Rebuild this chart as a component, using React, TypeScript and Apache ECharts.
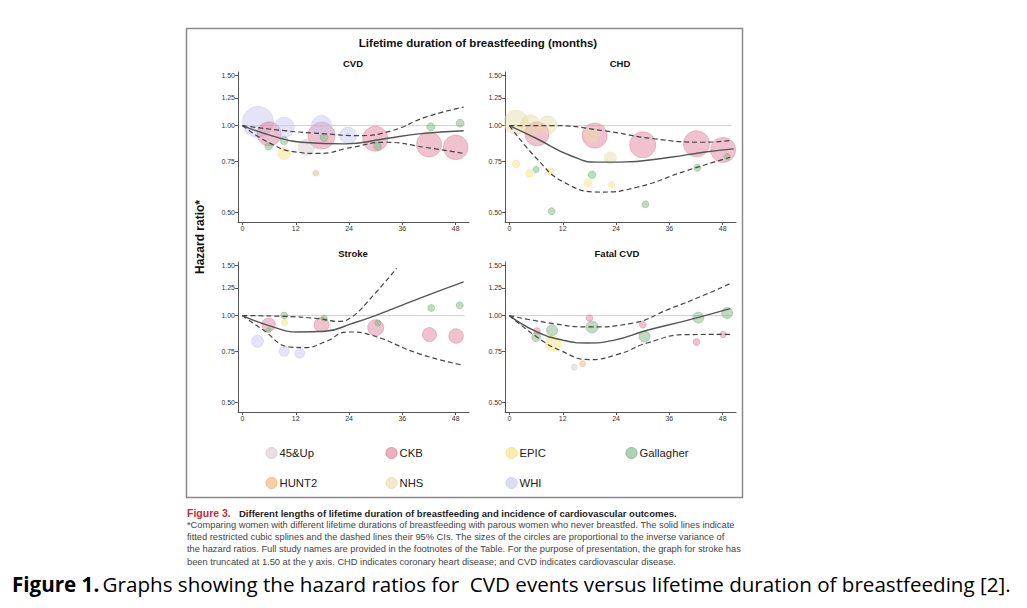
import React, { useEffect, useRef } from "react";
import * as echarts from "echarts";

// ---------- DATA ----------
const studies = ["45&Up", "CKB", "EPIC", "Gallagher", "HUNT2", "NHS", "WHI"];
const xTicks = [0, 12, 24, 36, 48];
const yTicks = [0.5, 0.75, 1.0, 1.25, 1.5];
const panelTitles = ["CVD", "CHD", "Stroke", "Fatal CVD"];

// [study, months, hazard ratio, weight (inverse variance, relative)]
const cvdPoints: [string, number, number, number][] = [
  ["WHI", 3.5, 1.03, 240],
  ["WHI", 9.4, 0.986, 100],
  ["CKB", 6, 0.936, 144],
  ["Gallagher", 5.9, 0.847, 14],
  ["Gallagher", 9.4, 0.887, 16],
  ["EPIC", 9.4, 0.8, 36],
  ["45&Up", 14.4, 0.84, 64],
  ["HUNT2", 16.5, 0.683, 8],
  ["WHI", 17.8, 1.0, 100],
  ["CKB", 17.8, 0.923, 182],
  ["Gallagher", 18.4, 0.91, 16],
  ["WHI", 23.8, 0.923, 69],
  ["CKB", 29.9, 0.9, 156],
  ["Gallagher", 30.4, 0.847, 16],
  ["Gallagher", 42.4, 0.99, 16],
  ["CKB", 42, 0.86, 156],
  ["Gallagher", 49, 1.02, 16],
  ["CKB", 48, 0.84, 150],
];
const chdPoints: [string, number, number, number][] = [
  ["NHS", 1.5, 1.027, 144],
  ["NHS", 4.7, 1.005, 100],
  ["NHS", 8.6, 1.005, 81],
  ["CKB", 6.2, 0.936, 144],
  ["NHS", 18.6, 0.93, 60],
  ["CKB", 19.2, 0.923, 156],
  ["CKB", 30, 0.857, 169],
  ["CKB", 42.1, 0.864, 169],
  ["CKB", 48.1, 0.823, 156],
  ["Gallagher", 49, 0.78, 10],
  ["NHS", 22.7, 0.772, 36],
  ["EPIC", 1.5, 0.736, 14],
  ["EPIC", 4.5, 0.683, 14],
  ["Gallagher", 6, 0.703, 10],
  ["EPIC", 9.2, 0.692, 14],
  ["Gallagher", 18.6, 0.674, 14],
  ["EPIC", 17.6, 0.632, 14],
  ["EPIC", 23, 0.622, 10],
  ["Gallagher", 9.5, 0.503, 12],
  ["Gallagher", 30.6, 0.532, 12],
  ["Gallagher", 42.3, 0.713, 12],
];
const strokePoints: [string, number, number, number][] = [
  ["CKB", 5.9, 0.93, 45],
  ["Gallagher", 5.9, 0.889, 7],
  ["WHI", 3.4, 0.814, 36],
  ["Gallagher", 9.4, 1.0, 12],
  ["EPIC", 9.5, 0.943, 9],
  ["WHI", 9.4, 0.751, 25],
  ["WHI", 12.9, 0.74, 25],
  ["CKB", 17.8, 0.93, 56],
  ["Gallagher", 18.4, 0.98, 9],
  ["CKB", 30, 0.908, 64],
  ["Gallagher", 30.5, 0.943, 9],
  ["Gallagher", 42.5, 1.063, 12],
  ["CKB", 42.1, 0.859, 49],
  ["Gallagher", 48.9, 1.086, 12],
  ["CKB", 48.1, 0.849, 53],
];
const fatalPoints: [string, number, number, number][] = [
  ["CKB", 6.2, 0.884, 11],
  ["Gallagher", 6, 0.842, 20],
  ["Gallagher", 9.6, 0.889, 30],
  ["EPIC", 9.8, 0.799, 56],
  ["45&Up", 14.6, 0.662, 9],
  ["HUNT2", 16.5, 0.68, 9],
  ["CKB", 18, 0.981, 11],
  ["Gallagher", 18.6, 0.913, 36],
  ["CKB", 30, 0.93, 11],
  ["Gallagher", 30.4, 0.847, 30],
  ["CKB", 42.1, 0.809, 12],
  ["Gallagher", 42.5, 0.984, 30],
  ["CKB", 48.1, 0.86, 10],
  ["Gallagher", 49, 1.021, 30],
];

// restricted cubic spline fits and 95% CIs: [months, hazard ratio]
const cvdFit = [[0, 1], [6.5, 0.923], [13.3, 0.875], [23.1, 0.864], [32, 0.9], [39.6, 0.936], [49.8, 0.96]];
const cvdUpper = [[0, 1], [9.5, 0.96], [18.6, 0.936], [26, 0.923], [33.6, 0.96], [41.2, 1.07], [49.8, 1.16]];
const cvdLower = [[0, 1], [5.8, 0.875], [11.8, 0.81], [17.1, 0.8], [24.6, 0.84], [32.1, 0.875], [41.1, 0.84], [49.8, 0.8]];

const chdFit = [[0, 1], [6.2, 0.9], [13.7, 0.787], [19.7, 0.746], [24.9, 0.746], [36.2, 0.776], [43.7, 0.808], [50.5, 0.83]];
const chdUpper = [[0, 1], [9.9, 1.0], [21.2, 0.96], [32.5, 0.9], [43.7, 0.875], [49.7, 0.887]];
const chdLower = [[0, 1], [6.2, 0.766], [12.2, 0.636], [20.4, 0.587], [28.7, 0.61], [40, 0.698], [49.7, 0.776]];

const strokeFit = [[0, 1], [5.8, 0.925], [12.6, 0.877], [18.6, 0.882], [24.6, 0.938], [29.9, 1.0], [39.7, 1.146], [49.8, 1.31]];
const strokeUpper = [[0, 1], [9.5, 0.994], [17.1, 0.976], [21.6, 0.955], [24.6, 0.989], [29.1, 1.16], [34.7, 1.46]];
const strokeLower = [[0, 1], [4.3, 0.9], [10.9, 0.777], [13.9, 0.774], [18.6, 0.81], [23.8, 0.877], [29.1, 0.854], [39.7, 0.737], [49.8, 0.671]];

const fatalFit = [[0, 1], [6.2, 0.877], [12.2, 0.82], [17.4, 0.803], [23.4, 0.82], [31, 0.889], [40, 0.963], [49.7, 1.058]];
const fatalUpper = [[0, 1], [9.9, 0.938], [18, 0.913], [27.2, 0.938], [36.2, 1.058], [43.7, 1.177], [49.7, 1.293]];
const fatalLower = [[0, 1], [6.2, 0.842], [11.4, 0.757], [18, 0.703], [24.9, 0.737], [31, 0.803], [40, 0.859], [49.7, 0.86]];

const refLine = [[0, 1], [50, 1]];

const captionTitle = "Different lengths of lifetime duration of breastfeeding and incidence of cardiovascular outcomes.";
const captionLines = [
  "*Comparing women with different lifetime durations of breastfeeding with parous women who never breastfed. The solid lines indicate",
  "fitted restricted cubic splines and the dashed lines their 95% CIs. The sizes of the circles are proportional to the inverse variance of",
  "the hazard ratios. Full study names are provided in the footnotes of the Table. For the purpose of presentation, the graph for stroke has",
  "been truncated at 1.50 at the y axis. CHD indicates coronary heart disease; and CVD indicates cardiovascular disease.",
];

// ---------- STYLE ----------
const studyColors: Record<string, string> = {
  "45&Up": "#d8c9cc",
  CKB: "#e07d98",
  EPIC: "#f6e07a",
  Gallagher: "#79b482",
  HUNT2: "#f4ae6c",
  NHS: "#e6dcaa",
  WHI: "#c6c4ee",
};
const FONT = "'Liberation Sans', Arial, sans-serif";

const panels = [
  { title: panelTitles[0], pts: cvdPoints, fit: cvdFit, up: cvdUpper, lo: cvdLower, left: 238, top: 72, tx: 353, ty: 63 },
  { title: panelTitles[1], pts: chdPoints, fit: chdFit, up: chdUpper, lo: chdLower, left: 505, top: 72, tx: 620, ty: 63 },
  { title: panelTitles[2], pts: strokePoints, fit: strokeFit, up: strokeUpper, lo: strokeLower, left: 238, top: 262, tx: 353, ty: 253 },
  { title: panelTitles[3], pts: fatalPoints, fit: fatalFit, up: fatalUpper, lo: fatalLower, left: 505, top: 262, tx: 617, ty: 253 },
];

const ln = (v: number) => Math.log(v);
const toLog = (arr: number[][]) => arr.map(([m, v]) => [m, ln(v)]);

function hexA(hex: string, a: number) {
  const n = parseInt(hex.slice(1), 16);
  return `rgba(${(n >> 16) & 255},${(n >> 8) & 255},${n & 255},${a})`;
}

function txt(x: number, y: number, text: string, font: string, fill: string, align = "left", extra: any = {}) {
  return {
    type: "text",
    x,
    y,
    ...extra,
    style: {
      text,
      font,
      fill,
      align,
      verticalAlign: "middle",
      textAlign: align,
      textVerticalAlign: "middle",
    },
  };
}

export default function App() {
  const ref = useRef<HTMLDivElement>(null);
  useEffect(() => {
    if (!ref.current) return;
    const chart = echarts.init(ref.current, null, { renderer: "svg" });

    const grid: any[] = [];
    const xAxis: any[] = [];
    const yAxis: any[] = [];
    const series: any[] = [];
    const graphic: any[] = [];

    panels.forEach((p, i) => {
      grid.push({ left: p.left, top: p.top, width: 231, height: 150 });
      xAxis.push({
        type: "value",
        gridIndex: i,
        min: -1,
        max: 51,
        axisLine: { show: true, onZero: false, lineStyle: { color: "#555", width: 1 } },
        axisTick: { show: true, length: 3, customValues: xTicks, lineStyle: { color: "#555" } },
        axisLabel: { customValues: xTicks, fontSize: 7, color: "#333", margin: 3, fontFamily: FONT },
        splitLine: { show: false },
      });
      yAxis.push({
        type: "value",
        gridIndex: i,
        min: -0.773,
        max: 0.43,
        axisLine: { show: true, onZero: false, lineStyle: { color: "#555", width: 1 } },
        axisTick: { show: true, length: 3, customValues: yTicks.map(ln), lineStyle: { color: "#555" } },
        axisLabel: {
          customValues: yTicks.map(ln),
          formatter: (v: number) => Math.exp(v).toFixed(2),
          fontSize: 7,
          color: "#333",
          margin: 3,
          fontFamily: FONT,
        },
        splitLine: { show: false },
      });

      series.push({
        type: "line",
        xAxisIndex: i,
        yAxisIndex: i,
        data: toLog(refLine),
        symbol: "none",
        lineStyle: { color: "#cfcfcf", width: 1 },
        z: 1,
      });

      const sorted = [...p.pts].sort((a, b) => b[3] - a[3]);
      series.push({
        type: "scatter",
        xAxisIndex: i,
        yAxisIndex: i,
        z: 2,
        data: sorted.map(([s, m, v, w]) => ({
          value: [m, ln(v)],
          symbolSize: 2 * Math.sqrt(w),
          itemStyle: {
            color: hexA(studyColors[s], 0.6),
            borderColor: hexA(studyColors[s], 0.75),
            borderWidth: 0.8,
          },
        })),
      });

      series.push({
        type: "line",
        xAxisIndex: i,
        yAxisIndex: i,
        data: toLog(p.fit),
        symbol: "none",
        smooth: 0.5,
        lineStyle: { color: "#555", width: 1.4 },
        z: 3,
      });
      [p.up, p.lo].forEach((d) =>
        series.push({
          type: "line",
          xAxisIndex: i,
          yAxisIndex: i,
          data: toLog(d),
          symbol: "none",
          smooth: 0.5,
          lineStyle: { color: "#444", width: 1.2, type: [5, 3] },
          z: 3,
        })
      );

      graphic.push(txt(p.tx, p.ty, p.title, `bold 9.5px ${FONT}`, "#111", "center"));
    });

    // frame
    graphic.push({
      type: "rect",
      shape: { x: 186.5, y: 28.5, width: 556, height: 469 },
      style: { fill: "none", stroke: "#8a8a8a", lineWidth: 1.5 },
      z: 0,
    });
    graphic.push(txt(478, 43, "Lifetime duration of breastfeeding (months)", `bold 11.5px ${FONT}`, "#111", "center"));
    graphic.push(txt(200, 237, "Hazard ratio*", `bold 12px ${FONT}`, "#111", "center", { rotation: Math.PI / 2 }));

    // legend
    const colX = [271.5, 391.5, 511.5, 631.5];
    studies.forEach((s, k) => {
      const cx = colX[k % 4];
      const cy = k < 4 ? 453 : 483;
      graphic.push({
        type: "circle",
        shape: { cx, cy, r: 5.5 },
        style: { fill: hexA(studyColors[s], 0.6), stroke: hexA(studyColors[s], 0.8), lineWidth: 1 },
      });
      graphic.push(txt(cx + 8, cy, s, `11.3px ${FONT}`, "#222"));
    });

    // caption
    graphic.push(txt(187, 513, "Figure 3.", `bold 10.5px ${FONT}`, "#c8283c"));
    graphic.push(txt(239, 513, captionTitle, `bold 9.5px ${FONT}`, "#222"));
    captionLines.forEach((t, k) => {
      graphic.push(txt(187, 525 + k * 12.2, t, `9.3px ${FONT}`, "#444"));
    });
    graphic.push({
      type: "text",
      x: 12,
      y: 584,
      style: {
        rich: {
          b: { fontFamily: "'Open Sans', sans-serif", fontWeight: "bold", fontSize: 20.6, fill: "#000" },
          n: { fontFamily: "'Open Sans', sans-serif", fontSize: 20.6, fill: "#000" },
        },
        text: "{b|Figure 1.} {n|Graphs showing the hazard ratios for  CVD events versus lifetime duration of breastfeeding [2].}",
        align: "left",
        verticalAlign: "middle",
        textAlign: "left",
        textVerticalAlign: "middle",
      },
    });

    chart.setOption({ animation: false, grid, xAxis, yAxis, series, graphic });
    return () => chart.dispose();
  }, []);

  return (
    <div
      ref={ref}
      style={{ position: "fixed", left: 0, top: 0, width: 1027, height: 608, background: "#fff" }}
    />
  );
}
